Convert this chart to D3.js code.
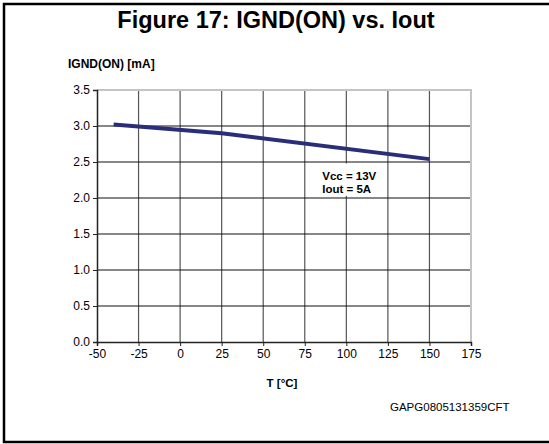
<!DOCTYPE html>
<html>
<head>
<meta charset="utf-8">
<script src="https://cdn.jsdelivr.net/npm/d3@7"></script>
<style>
  body { margin: 0; background: #fff; }
  svg { display: block; font-family: "Liberation Sans", Arial, sans-serif; }
  .tick text { font-size: 12px; fill: #000; }
</style>
</head>
<body>
<div id="chart"></div>
<script>
// curve
const temps = [-40, 25, 150];
const ignd = [3.02, 2.90, 2.54];

const xTicks = [-50, -25, 0, 25, 50, 75, 100, 125, 150, 175];
const yTicks = [0, 0.5, 1.0, 1.5, 2.0, 2.5, 3.0, 3.5];

const titleText = "Figure 17: IGND(ON) vs. Iout";
const yTitle = "IGND(ON) [mA]";
const xTitle = "T [°C]";
const noteLines = ["Vcc = 13V", "Iout = 5A"];
const codeText = "GAPG0805131359CFT";

class TempChart {

  constructor(_config) {
    this.config = {
      parentElement: _config.parentElement,
      width: 549,
      height: 444
    }
    this.config.margin = _config.margin || { top: 90, bottom: 102, right: 78, left: 97 };
    this.initVis();
  }

  initVis() {
    let vis = this;
    let c = vis.config;

    vis.svgContainer = d3.select(c.parentElement).append("svg")
        .attr("width", c.width)
        .attr("height", c.height);

    // outer frame (right side runs off the page)
    vis.svgContainer.append("rect")
        .attr("x", 4).attr("y", 4)
        .attr("width", 580).attr("height", 438)
        .attr("fill", "none")
        .attr("stroke", "#000")
        .attr("stroke-width", 2.5);

    vis.svgContainer.append("text")
        .attr("x", 276).attr("y", 28)
        .attr("text-anchor", "middle")
        .attr("font-size", "23.5px")
        .attr("font-weight", "bold")
        .text(titleText);

    vis.innerW = c.width - c.margin.left - c.margin.right;
    vis.innerH = c.height - c.margin.top - c.margin.bottom;

    vis.svg = vis.svgContainer.append("g")
        .attr("transform", "translate(" + c.margin.left + "," + c.margin.top + ")");

    vis.xScale = d3.scaleLinear().domain([-50, 175]).range([0, vis.innerW]);
    vis.yScale = d3.scaleLinear().domain([0, 3.5]).range([vis.innerH, 0]);

    vis.updateVis();
  }

  updateVis() {
    let vis = this;
    const x = vis.xScale, y = vis.yScale;

    // vertical gridlines
    vis.svg.selectAll(".vgrid")
      .data(xTicks.slice(1, -1))
      .join("line")
        .attr("class", "vgrid")
        .attr("x1", d => x(d)).attr("x2", d => x(d))
        .attr("y1", 0).attr("y2", vis.innerH)
        .attr("stroke", "#555").attr("stroke-width", 1.2);

    // horizontal gridlines
    vis.svg.selectAll(".hgrid")
      .data(yTicks.slice(1, -1))
      .join("line")
        .attr("class", "hgrid")
        .attr("x1", 0).attr("x2", vis.innerW)
        .attr("y1", d => y(d)).attr("y2", d => y(d))
        .attr("stroke", "#111").attr("stroke-width", 1.1);

    // light grey top and right edge of plot
    vis.svg.append("path")
        .attr("d", "M0," + y(3.5) + "H" + x(175) + "V" + y(0))
        .attr("fill", "none")
        .attr("stroke", "#c4c4c4").attr("stroke-width", 2);

    // note box, white behind text
    vis.svg.append("rect")
        .attr("x", x(83)).attr("y", y(2.48))
        .attr("width", x(121) - x(83)).attr("height", y(2.03) - y(2.48))
        .attr("fill", "#fff");

    const note = vis.svg.append("text")
        .attr("font-size", "11.5px")
        .attr("font-weight", "bold");
    note.selectAll("tspan")
      .data(noteLines)
      .join("tspan")
        .attr("x", x(85.5))
        .attr("y", (d, i) => y(2.5) + 18 + i * 12.5)
        .text(d => d);

    // axes (plain hyphen for negatives, as in the datasheet)
    const xAxis = d3.axisBottom(x).tickValues(xTicks).tickSize(4).tickPadding(3)
        .tickFormat(d => String(d));
    const yAxis = d3.axisLeft(y).tickValues(yTicks).tickSize(4).tickPadding(3)
        .tickFormat(d => d.toFixed(1));

    vis.svg.append("g")
        .attr("transform", "translate(0," + vis.innerH + ")")
        .call(xAxis)
        .call(g => g.select(".domain").attr("stroke", "#222").attr("stroke-width", 1.5))
        .call(g => g.selectAll(".tick line").attr("stroke", "#222"))
        .call(g => g.selectAll(".tick text").attr("font-family", null).attr("font-size", null));

    vis.svg.append("g")
        .call(yAxis)
        .call(g => g.select(".domain").attr("stroke", "#222").attr("stroke-width", 1.5))
        .call(g => g.selectAll(".tick line").attr("stroke", "#222"))
        .call(g => g.selectAll(".tick text").attr("font-family", null).attr("font-size", null));

    // data curve
    const line = d3.line()
        .x((d, i) => x(temps[i]))
        .y(d => y(d));

    vis.svg.append("path")
        .datum(ignd)
        .attr("d", line)
        .attr("fill", "none")
        .attr("stroke", "#2a2d78")
        .attr("stroke-width", 4);

    // titles
    vis.svgContainer.append("text")
        .attr("x", 68).attr("y", 68)
        .attr("font-size", "12px")
        .attr("font-weight", "bold")
        .text(yTitle);

    vis.svgContainer.append("text")
        .attr("x", 282).attr("y", 387)
        .attr("text-anchor", "middle")
        .attr("font-size", "11.5px")
        .attr("font-weight", "bold")
        .text(xTitle);

    vis.svgContainer.append("text")
        .attr("x", 390).attr("y", 411)
        .attr("font-size", "11.5px")
        .text(codeText);
  }
}

new TempChart({ parentElement: "#chart" });
</script>
</body>
</html>
